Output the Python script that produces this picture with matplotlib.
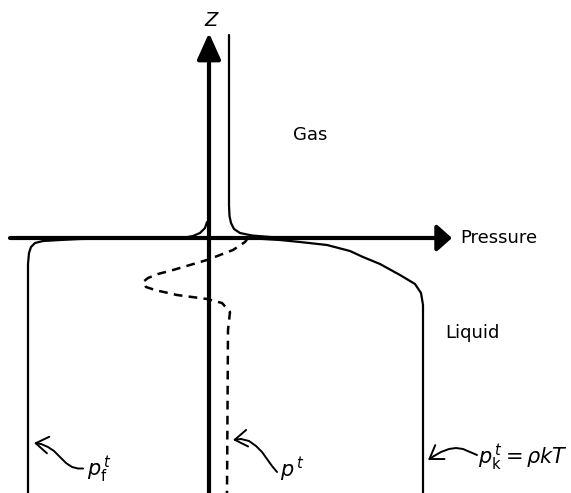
import matplotlib
matplotlib.use("Agg")
import matplotlib.pyplot as plt

# Schematic pressure profiles across a gas/liquid interface.
# Coordinates: x = pressure (left of the Z axis is negative), z = height, origin at the interface.

# tangential "f" (force) contribution, left branch
pf_x = [-181, -181, -180, -178, -174, -166, -149, -129, -89, -19]
pf_z = [-255, -26, -15, -9, -5, -3, -2, -1, -0.5, 0]

# kinetic contribution, right branch (p_k = rho k T)
pk_x = [30, 46, 71, 91, 118, 141, 154, 171, 191, 206, 212, 214, 214]
pk_z = [0, -0.5, -2, -4, -7, -13, -19, -26, -37, -46, -55, -67, -255]

# pressure in the gas running down to the interface
gas_x = [20, 20, 20.5, 22, 25, 31, 43, 61, 91]
gas_z = [203, 33, 22, 15, 9, 5, 2.5, 1, 0]

# small flare on the left of the Z axis
flare_x = [-2, -4, -9, -16, -24]
flare_z = [16, 10, 5, 2, 0.5]

# total tangential pressure p^t (dashed)
pt_x = [39, 36, 24, -2, -36, -51, -61, -66, -63, -54, -32, -2, 13, 21, 19, 18]
pt_z = [0, -4, -12, -22, -32, -36, -40, -44, -49, -52, -57, -61, -65, -74, -92, -255]

# pointer curves from the labels
ptr_f_x = [-126, -131, -137, -143, -149, -155, -161, -168, -175]
ptr_f_z = [-230.5, -230.5, -229, -225, -219, -213, -209, -206, -205]
ptr_t_x = [68, 63, 58, 53, 47, 40, 32, 24]
ptr_t_z = [-234, -228, -221, -214, -208, -203, -201, -202]
ptr_k_x = [268, 261, 254, 247, 240, 232, 225, 219]
ptr_k_z = [-217, -214, -211, -210, -211, -214, -218, -222]

fig = plt.figure(figsize=(5.71, 4.93), dpi=100)
ax = fig.add_axes([0, 0, 1, 1])
ax.set_xlim(-209, 362)
ax.set_ylim(-255, 238)
ax.axis("off")

# axes with arrow heads
ax.annotate("", xy=(243, 0), xytext=(-199, 0),
            arrowprops=dict(arrowstyle="-|>,head_length=0.45,head_width=0.4",
                            lw=3, color="black", mutation_scale=20,
                            shrinkA=0, shrinkB=0))
ax.annotate("", xy=(0, 205), xytext=(0, -255),
            arrowprops=dict(arrowstyle="-|>,head_length=0.8,head_width=0.36",
                            lw=3, color="black", mutation_scale=20,
                            shrinkA=0, shrinkB=0))

kw = dict(color="black", lw=1.6, solid_joinstyle="round", solid_capstyle="round")
ax.plot(pf_x, pf_z, **kw)
ax.plot(pk_x, pk_z, **kw)
ax.plot(gas_x, gas_z, **kw)
ax.plot(flare_x, flare_z, **kw)
ax.plot(pt_x, pt_z, color="black", lw=1.8, dashes=(3.5, 2.5))

# label pointers
for xs, zs in [(ptr_f_x, ptr_f_z), (ptr_t_x, ptr_t_z), (ptr_k_x, ptr_k_z)]:
    ax.plot(xs[:-1], zs[:-1], color="black", lw=1.4,
            solid_capstyle="round", solid_joinstyle="round")
    ax.annotate("", xy=(xs[-1], zs[-1]), xytext=(xs[-2], zs[-2]),
                arrowprops=dict(arrowstyle="->,head_length=0.45,head_width=0.3",
                                lw=1.4, color="black", mutation_scale=20,
                                shrinkA=0, shrinkB=0))

ax.text(3, 218, "$Z$", fontsize=14, ha="center", va="center")
ax.text(101, 103, "Gas", fontsize=13, ha="center", va="center")
ax.text(251, 0, "Pressure", fontsize=13, ha="left", va="center")
ax.text(263, -95, "Liquid", fontsize=13, ha="center", va="center")
ax.text(-122, -232, "$p_{\\rm f}^{\\,t}$", fontsize=15, ha="left", va="center")
ax.text(71, -232, "$p^{\\,t}$", fontsize=15, ha="left", va="center")
ax.text(269, -220, "$p_{\\rm k}^{\\,t} = \\rho kT$", fontsize=15, ha="left", va="center")

fig.savefig("out.png", dpi=100)
